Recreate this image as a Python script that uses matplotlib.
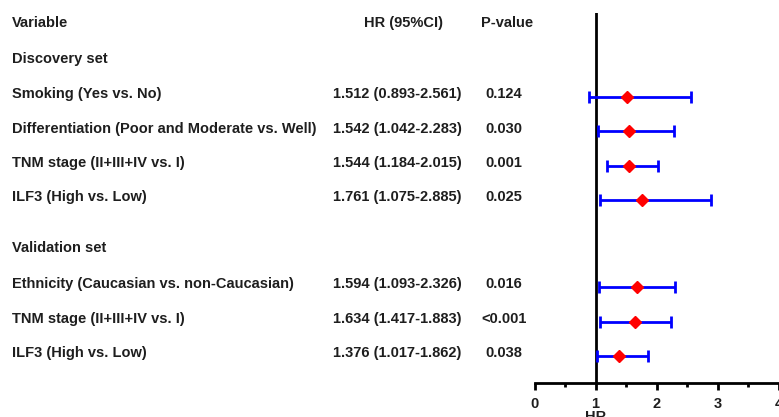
import numpy as np
import matplotlib
matplotlib.use('Agg')
import matplotlib.pyplot as plt
from matplotlib.transforms import blended_transform_factory

# %% Data

variables = ['Smoking (Yes vs. No)',
             'Differentiation (Poor and Moderate vs. Well)',
             'TNM stage (II+III+IV vs. I)',
             'ILF3 (High vs. Low)',
             'Ethnicity (Caucasian vs. non-Caucasian)',
             'TNM stage (II+III+IV vs. I)',
             'ILF3 (High vs. Low)']
hr_text = ['1.512 (0.893-2.561)', '1.542 (1.042-2.283)', '1.544 (1.184-2.015)',
           '1.761 (1.075-2.885)', '1.594 (1.093-2.326)', '1.634 (1.417-1.883)',
           '1.376 (1.017-1.862)']
p_text = ['0.124', '0.030', '0.001', '0.025', '0.016', '<0.001', '0.038']

# values as drawn in the plot
hr = [1.512, 1.542, 1.544, 1.761, 1.68, 1.65, 1.376]
ci_low = [0.893, 1.042, 1.184, 1.075, 1.06, 1.07, 1.017]
ci_high = [2.561, 2.283, 2.015, 2.885, 2.30, 2.23, 1.862]

set_names = ['Discovery set', 'Validation set']
xticks = [0, 1, 2, 3, 4]

# %% Layout

rows = [3, 4, 5, 6, 8.52, 9.52, 10.52]
set_rows = [1.9, 7.38]
header_row = 0.86

plt.rcParams['font.family'] = ['Liberation Sans', 'DejaVu Sans']
plt.rcParams['font.weight'] = 'bold'
txt_color = '#1e1e1e'
fs = 10.5

fig = plt.figure(figsize=(7.79, 4.17), dpi=100)
ax = fig.add_axes([534.5 / 779, 34 / 417, 244.5 / 779, 370 / 417])

y = np.array(rows)
err = [np.array(hr) - np.array(ci_low), np.array(ci_high) - np.array(hr)]
ax.errorbar(hr, y, xerr=err, fmt='none', ecolor='#0000ff', elinewidth=2,
            capsize=4, capthick=2, zorder=2)
ax.plot(hr, y, 'D', color='#ff0000', markersize=6.5, zorder=3)

ax.axvline(1, color='black', lw=2, zorder=1)
ax.set_xlim(0, 4)
ax.set_ylim(11.3, 0.57)
ax.set_xticks(xticks)
ax.set_xticks([0.5, 1.5, 2.5, 3.5], minor=True)
ax.set_yticks([])
for s in ['left', 'top', 'right']:
    ax.spines[s].set_visible(False)
ax.spines['bottom'].set_linewidth(2)
ax.tick_params(axis='x', which='major', length=5, width=2, labelsize=fs,
               pad=5, labelcolor=txt_color)
ax.tick_params(axis='x', which='minor', length=3, width=2)
ax.set_xlabel('HR', fontsize=fs, fontweight='bold', color=txt_color)
ax.xaxis.set_label_coords(0.25, -0.072)
ax.patch.set_alpha(0)

tr = blended_transform_factory(fig.transFigure, ax.transData)
dy = -0.08
kw = dict(transform=tr, fontsize=fs, color=txt_color, va='center', clip_on=False)

ax.text(12 / 779, header_row, 'Variable', ha='left', **kw)
ax.text(404 / 779, header_row, 'HR (95%CI)', ha='center', **kw)
ax.text(507 / 779, header_row, 'P-value', ha='center', **kw)
for name, r in zip(set_names, set_rows):
    ax.text(12 / 779, r, name, ha='left', **kw)
for var, h, p, r in zip(variables, hr_text, p_text, rows):
    ax.text(12 / 779, r + dy, var, ha='left', **kw)
    ax.text(333 / 779, r + dy, h, ha='left', **kw)
    ax.text(504 / 779, r + dy, p, ha='center', **kw)

fig.savefig('out.png', dpi=100)
